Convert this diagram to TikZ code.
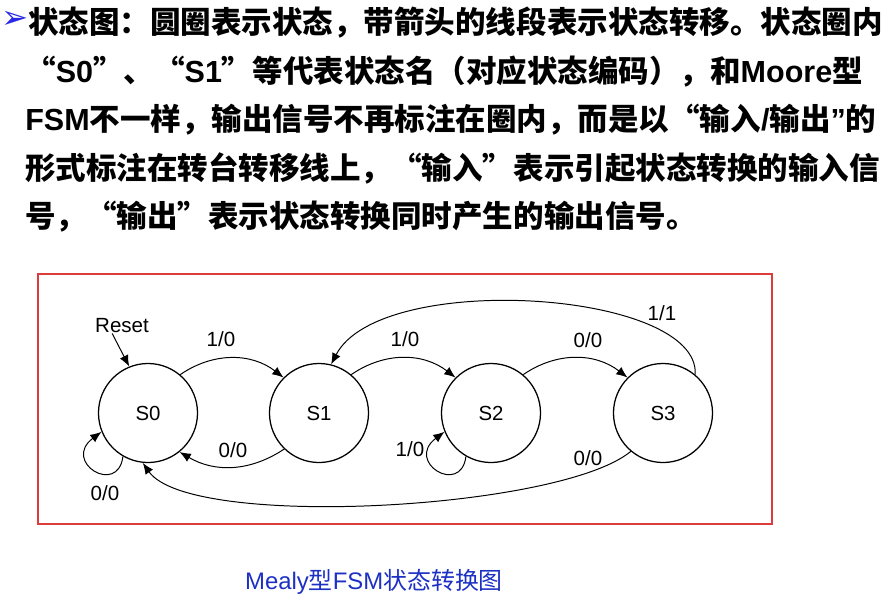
\documentclass[tikz,border=0pt]{standalone}
\usepackage{fontspec}
\setmainfont{Noto Sans CJK SC}
\newfontfamily\arial{Liberation Sans}[BoldFont={Liberation Sans Bold}]
\newfontfamily\dingfont{DejaVu Sans}
\usetikzlibrary{arrows.meta}
\definecolor{boxred}{RGB}{220,60,60}
\definecolor{capblue}{RGB}{28,48,196}
\definecolor{bulletblue}{RGB}{40,40,230}
\newcommand{\qo}{\makebox[1em][r]{“}}
\newcommand{\qc}{\makebox[1em][l]{”}}

\begin{document}
\begin{tikzpicture}[x=0.025cm, y=0.025cm, >={Latex[length=8pt,width=6.5pt]},
  txtline/.style={anchor=base west, inner sep=0pt, font=\fontsize{21.7pt}{26pt}\selectfont\bfseries},
  state/.style={draw, circle, line width=0.9pt, minimum size=2.475cm, inner sep=0pt, font=\arial\fontsize{14.5pt}{16pt}\selectfont},
  lbl/.style={inner sep=0pt, font=\arial\fontsize{14.6pt}{16pt}\selectfont},
  edge/.style={->, line width=0.7pt}]
\useasboundingbox (0,0) rectangle (896,-608);
% 说明文字
\node[text=bulletblue, font=\dingfont\fontsize{23pt}{23pt}\selectfont, inner sep=0pt] (bullet) at (15,-20) {➢};
\node[txtline] (line1) at (28,-33) {状态图：圆圈表示状态，带箭头的线段表示状态转移。状态圈内};
\node[txtline] (line2) at (25,-82) {\qo{\arial S0}\qc、\qo{\arial S1}\qc 等代表状态名（对应状态编码），和{\arial Moore}型};
\node[txtline] (line3) at (25,-130) {{\arial FSM}不一样，输出信号不再标注在圈内，而是以\qo 输入{\arial /}输出{\arial ”}的};
\node[txtline] (line4) at (25,-179) {形式标注在转台转移线上，\qo 输入\qc 表示引起状态转换的输入信};
\node[txtline] (line5) at (25,-227) {号，\qo 输出\qc 表示状态转换同时产生的输出信号。};
% 状态图
\draw[boxred, line width=1.1pt] (38,-274) rectangle (772,-524);
\node[state] (s0) at (148,-413) {S0};
\node[state] (s1) at (319,-413) {S1};
\node[state] (s2) at (491,-413) {S2};
\node[state] (s3) at (663,-413) {S3};
\node[lbl] (reset) at (122,-326) {Reset};
\draw[edge] ([xshift=-7pt]reset.south) -- (s0.112);
\draw[edge] (s0.50) to[bend left=36] (s1.135);
\draw[edge] (s1.226) to[bend left=32] (s0.309);
\draw[edge] (s1.50) to[bend left=36] (s2.135);
\draw[edge] (s2.50) to[bend left=36] (s3.135);
\draw[edge] (s0.240) .. controls +(-5,-40) and +(-40,-30) .. (s0.202);
\draw[edge] (s2.240) .. controls +(-5,-40) and +(-40,-30) .. (s2.202);
\draw[edge] (s3.50) .. controls (700,-290) and (380,-270) .. (s1.76);
\draw[edge] (s3.230) .. controls (560,-510) and (190,-530) .. (s0.264);
\node[lbl] (t01) at (221,-339) {1/0};
\node[lbl] (t10) at (233,-450) {0/0};
\node[lbl] (t00) at (105,-493) {0/0};
\node[lbl] (t12) at (405,-339) {1/0};
\node[lbl] (t22) at (410,-449) {1/0};
\node[lbl] (t23) at (588,-340) {0/0};
\node[lbl] (t31) at (662,-313) {1/1};
\node[lbl] (t30) at (588,-458) {0/0};
% 图题
\node[text=capblue, font=\fontsize{17pt}{20pt}\selectfont] (caption) at (374,-582) {{\arial Mealy}型{\arial FSM}状态转换图};
\end{tikzpicture}
\end{document}
